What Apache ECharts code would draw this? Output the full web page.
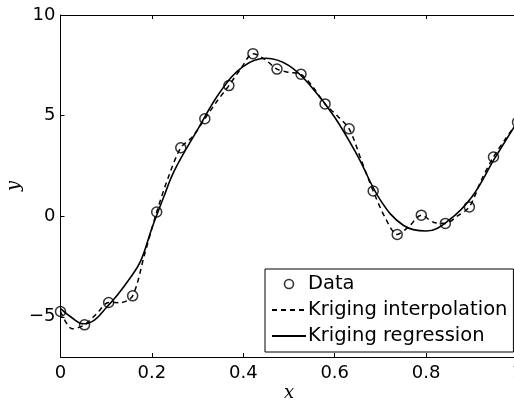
<!DOCTYPE html>
<html>
<head>
<meta charset="utf-8">
<script src="https://cdn.jsdelivr.net/npm/echarts@6/dist/echarts.min.js"></script>
<style>
  html, body { margin: 0; padding: 0; background: #fff; }
  #chart { width: 514px; height: 400px; }
</style>
</head>
<body>
<div id="chart"></div>
<script>
// sampled data (circles)
var sampleX = [0, 0.0526, 0.1053, 0.1579, 0.2105, 0.2632, 0.3158, 0.3684, 0.4211, 0.4737,
               0.5263, 0.5789, 0.6316, 0.6842, 0.7368, 0.7895, 0.8421, 0.8947, 0.9474, 1.0];
var sampleY = [-4.74, -5.40, -4.29, -3.96, 0.21, 3.40, 4.84, 6.49, 8.08, 7.31,
               7.06, 5.58, 4.34, 1.25, -0.91, 0.05, -0.36, 0.46, 2.94, 4.67];

// kriging interpolation (dashed)
var interpX = [0, 0.026, 0.0526, 0.079, 0.1053, 0.132, 0.1579, 0.184, 0.2105, 0.237,
               0.2632, 0.289, 0.3158, 0.342, 0.3684, 0.395, 0.4211, 0.447, 0.4737, 0.5,
               0.5263, 0.553, 0.5789, 0.605, 0.6316, 0.658, 0.6842, 0.711, 0.7368, 0.763,
               0.7895, 0.816, 0.8421, 0.868, 0.8947, 0.921, 0.9474, 0.974, 1.0];
var interpY = [-4.74, -5.6, -5.40, -4.85, -4.29, -4.3, -3.96, -1.9, 0.21, 2.0,
               3.40, 3.95, 4.84, 5.7, 6.49, 7.35, 8.08, 7.8, 7.31, 7.15,
               7.06, 6.4, 5.58, 5.0, 4.34, 2.8, 1.25, -0.1, -0.91, -0.5,
               0.05, -0.3, -0.36, 0.0, 0.46, 1.8, 2.94, 3.85, 4.67];

// kriging regression (solid)
var regX = [0, 0.025, 0.05, 0.075, 0.1, 0.125, 0.15, 0.175, 0.2, 0.225, 0.25, 0.3, 0.35,
            0.4, 0.45, 0.5, 0.55, 0.6, 0.65, 0.7, 0.75, 0.8, 0.85, 0.9, 0.95, 1.0];
var regY = [-4.6, -5.05, -5.35, -5.15, -4.55, -3.9, -3.15, -2.25, -0.6, 0.9, 2.3, 4.3, 6.2,
            7.45, 7.85, 7.48, 6.4, 4.92, 3.0, 0.8, -0.45, -0.74, -0.2, 0.95, 2.87, 4.7];

var yTicks = [-5, 0, 5, 10];

function zip(xs, ys) {
    var out = [];
    xs.forEach(function (x, i) { out.push([x, ys[i]]); });
    return out;
}

var font = 'DejaVu Sans, Liberation Sans, sans-serif';
var serif = 'DejaVu Serif, Liberation Serif, serif';
var axisLine = { onZero: false, lineStyle: { color: '#000', width: 1 } };
var tick = { inside: true, length: 4, lineStyle: { color: '#000' } };
var noSymbol = { color: 'rgba(0,0,0,0)', opacity: 0, borderWidth: 0 };

var chart = echarts.init(document.getElementById('chart'));
chart.setOption({
    animation: false,
    backgroundColor: '#fff',
    grid: { left: 60.5, top: 15, width: 457, height: 342, outerBoundsMode: 'none', containLabel: false },
    legend: {
        orient: 'vertical',
        left: 265,
        top: 269,
        padding: [5, 6, 6, 6],
        itemGap: 6,
        itemWidth: 34,
        itemHeight: 9,
        backgroundColor: '#fff',
        borderColor: '#000',
        borderWidth: 1,
        borderRadius: 0,
        textStyle: { fontFamily: font, fontSize: 19.5, color: '#000', padding: [0, 0, 0, -3] },
        data: [
            { name: 'Data', icon: 'circle',
              itemStyle: { color: 'rgba(0,0,0,0)', borderColor: '#000', borderWidth: 1.6 } },
            { name: 'Kriging interpolation', itemStyle: noSymbol },
            { name: 'Kriging regression', itemStyle: noSymbol }
        ]
    },
    xAxis: [{
        type: 'value', min: 0, max: 1, interval: 0.2,
        name: 'x', nameLocation: 'middle', nameGap: 27, nameMoveOverlap: false,
        nameTextStyle: { fontFamily: serif, fontStyle: 'italic', fontSize: 18, color: '#000' },
        axisLine: axisLine,
        axisTick: tick,
        axisLabel: { fontFamily: font, fontSize: 18, color: '#000', margin: 7 },
        splitLine: { show: false }
    }, {
        type: 'value', min: 0, max: 1, interval: 0.2, position: 'top',
        axisLine: axisLine,
        axisTick: tick,
        axisLabel: { show: false },
        splitLine: { show: false }
    }],
    yAxis: {
        type: 'value', min: -7, max: 10,
        name: 'y', nameLocation: 'middle', nameGap: 37, nameRotate: 90, nameMoveOverlap: false,
        nameTextStyle: { fontFamily: serif, fontStyle: 'italic', fontSize: 18, color: '#000' },
        axisLine: axisLine,
        axisTick: { inside: true, length: 4, customValues: yTicks, lineStyle: { color: '#000' } },
        axisLabel: {
            fontFamily: font, fontSize: 18, color: '#000', margin: 5, customValues: yTicks,
            formatter: function (v) { return String(v).replace('-', '\u2212'); }
        },
        splitLine: { show: false }
    },
    series: [{
        name: 'Kriging interpolation',
        type: 'line',
        data: zip(interpX, interpY),
        smooth: 0.3,
        symbol: 'none',
        lineStyle: { color: '#000', width: 1.5, type: [5, 4] },
        itemStyle: { color: '#000' },
        z: 2
    }, {
        name: 'Kriging regression',
        type: 'line',
        data: zip(regX, regY),
        smooth: 0.4,
        symbol: 'none',
        lineStyle: { color: '#000', width: 1.6 },
        itemStyle: { color: '#000' },
        z: 3
    }, {
        name: 'Data',
        type: 'scatter',
        data: zip(sampleX, sampleY),
        symbol: 'circle',
        symbolSize: 10,
        itemStyle: { color: 'rgba(0,0,0,0)', borderColor: '#000', borderWidth: 1.5 },
        z: 4
    }]
});
</script>
</body>
</html>
